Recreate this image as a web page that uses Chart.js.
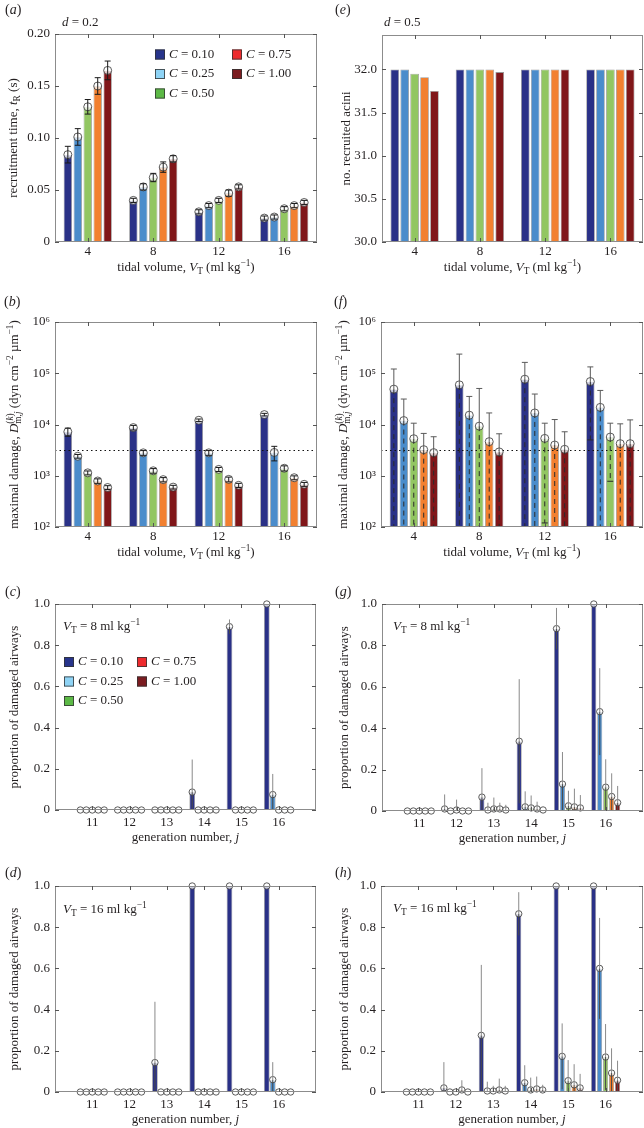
<!DOCTYPE html>
<html>
<head>
<meta charset="utf-8">
<script src="https://cdn.jsdelivr.net/npm/chart.js@4.4.1/dist/chart.umd.min.js"></script>
<style>
html, body { margin: 0; padding: 0; background: #fff; }
#page { position: relative; width: 644px; height: 1128px; overflow: hidden; }
#page canvas { position: absolute; }
</style>
</head>
<body>
<div id="page"></div>
<script>
// series and categories
const cLabels = ['0.10', '0.25', '0.50', '0.75', '1.00'];
const tidalVolumes = ['4', '8', '12', '16'];
const generations = [11, 12, 13, 14, 15, 16];

// tick values
const recruitTicks = [0, 0.05, 0.10, 0.15, 0.20];
const aciniTicks = [30, 30.5, 31, 31.5, 32];
const damageTicks = [1e2, 1e3, 1e4, 1e5, 1e6];
const propTicks = [0, 0.2, 0.4, 0.6, 0.8, 1.0];

// (a) recruitment time, d = 0.2  (rows: C, cols: tidal volume)
const recruitTimeD02 = [
	[0.084, 0.040, 0.029, 0.023],
	[0.101, 0.053, 0.035, 0.024],
	[0.130, 0.062, 0.040, 0.032],
	[0.150, 0.072, 0.047, 0.035],
	[0.165, 0.080, 0.053, 0.038]
];
const recruitTimeErrD02 = [
	[0.008, 0.002, 0.002, 0.002],
	[0.008, 0.003, 0.002, 0.002],
	[0.007, 0.004, 0.002, 0.002],
	[0.008, 0.005, 0.003, 0.002],
	[0.009, 0.003, 0.002, 0.002]
];

// (e) recruited acini, d = 0.5
const recruitedAciniD05 = [
	[32, 32, 32, 32],
	[32, 32, 32, 32],
	[31.95, 32, 32, 32],
	[31.91, 32, 32, 32],
	[31.75, 31.97, 32, 32]
];

// (b) maximal damage, d = 0.2
const maxDamageD02 = [
	[7200, 8700, 12100, 15600],
	[2400, 2800, 2800, 2850],
	[1140, 1250, 1330, 1400],
	[790, 840, 850, 915],
	[590, 600, 650, 680]
];
const maxDamageErrD02 = [
	[1300, 900, 700, 900],
	[200, 300, 300, 900],
	[100, 130, 120, 160],
	[80, 80, 90, 80],
	[50, 50, 60, 60]
];

// (f) maximal damage, d = 0.5
const maxDamageD05 = [
	[49000, 59400, 76500, 69000],
	[11950, 15200, 16800, 21600],
	[5280, 9290, 5360, 5690],
	[3230, 4630, 3980, 4230],
	[2830, 2920, 3280, 4230]
];
const maxDamageErrD05 = [
	[72000, 177000, 86500, 64000],
	[19450, 20100, 22500, 24600],
	[5320, 41200, 5240, 4910],
	[3470, 12170, 8520, 6070],
	[2940, 3670, 3930, 8070]
];
const damageThreshold = 3150;

// (c) proportion of damaged airways, VT = 8, d = 0.2  (cols: generation 11..16)
const damagedVT8D02 = [
	[0, 0, 0, 0.087, 0.89, 1.0],
	[0, 0, 0, 0, 0, 0.075],
	[0, 0, 0, 0, 0, 0],
	[0, 0, 0, 0, 0, 0],
	[0, 0, 0, 0, 0, 0]
];
const damagedVT8ErrD02 = [
	[0, 0, 0, 0.158, 0.035, 0],
	[0, 0, 0, 0, 0, 0.10],
	[0, 0, 0, 0, 0, 0],
	[0, 0, 0, 0, 0, 0],
	[0, 0, 0, 0, 0, 0]
];

// (d) VT = 16, d = 0.2
const damagedVT16D02 = [
	[0, 0, 0.143, 1.0, 1.0, 1.0],
	[0, 0, 0, 0, 0, 0.06],
	[0, 0, 0, 0, 0, 0],
	[0, 0, 0, 0, 0, 0],
	[0, 0, 0, 0, 0, 0]
];
const damagedVT16ErrD02 = [
	[0, 0, 0.295, 0, 0, 0],
	[0, 0, 0, 0, 0, 0.085],
	[0, 0, 0, 0, 0, 0],
	[0, 0, 0, 0, 0, 0],
	[0, 0, 0, 0, 0, 0]
];

// (g) VT = 8, d = 0.5
const damagedVT8D05 = [
	[0, 0.01, 0.067, 0.337, 0.881, 1.0],
	[0, 0, 0.005, 0.02, 0.13, 0.48],
	[0, 0.005, 0.01, 0.015, 0.025, 0.115],
	[0, 0, 0.01, 0.01, 0.02, 0.07],
	[0, 0, 0.005, 0.005, 0.015, 0.04]
];
const damagedVT8ErrD05 = [
	[0, 0.07, 0.14, 0.30, 0.10, 0],
	[0, 0, 0.035, 0.075, 0.155, 0.21],
	[0, 0.05, 0.055, 0.06, 0.073, 0.135],
	[0, 0, 0.03, 0.035, 0.088, 0.112],
	[0, 0, 0.025, 0, 0.062, 0.081]
];

// (h) VT = 16, d = 0.5
const damagedVT16D05 = [
	[0, 0.02, 0.275, 0.865, 1.0, 1.0],
	[0, 0, 0.005, 0.045, 0.173, 0.6],
	[0, 0, 0.005, 0.01, 0.055, 0.17],
	[0, 0.01, 0.01, 0.015, 0.035, 0.092],
	[0, 0, 0.005, 0.01, 0.02, 0.057]
];
const damagedVT16ErrD05 = [
	[0, 0.125, 0.342, 0.105, 0, 0],
	[0, 0, 0.045, 0.085, 0.16, 0.245],
	[0, 0, 0.025, 0.06, 0.10, 0.16],
	[0, 0.047, 0.055, 0.06, 0.10, 0.12],
	[0, 0, 0.025, 0.025, 0.068, 0.095]
];

const FONT = '"Liberation Serif", "DejaVu Serif", serif';
const TEXT = '#231f20';
const barColors = ['#2a3187', '#4a8ccb', '#92c662', '#f28030', '#801619'];
const legendColors = ['#27348b', '#8ed3f5', '#5cb946', '#ed2a2d', '#7b1c20'];

// rich text pieces
const T = t => ({t});
const I = t => ({t, i: true});
const Sub = (t, i) => ({t, s: 'sub', i});
const Sup = (t, i) => ({t, s: 'sup', i});

function DrawRich(ctx, parts, x, y, size, align) {
	let x0 = 0;
	const run = draw => {
		let cx = 0, mark = 0, maxEnd = 0;
		for (const p of parts) {
			if (p.mark) { mark = cx; continue; }
			if (p.back) { maxEnd = cx; cx = mark; continue; }
			if (p.end) { cx = Math.max(cx, maxEnd); continue; }
			const fs = p.s ? size * 0.72 : size;
			ctx.font = (p.i ? 'italic ' : '') + fs + 'px ' + FONT;
			const dy = p.s === 'sub' ? size * 0.3 : p.s === 'sup' ? -size * 0.38 : 0;
			if (draw) ctx.fillText(p.t, x0 + cx, y + dy);
			cx += ctx.measureText(p.t).width;
		}
		return cx;
	};
	ctx.textAlign = 'left';
	ctx.textBaseline = 'middle';
	const w = run(false);
	x0 = align === 'center' ? x - w / 2 : align === 'right' ? x - w : x;
	run(true);
}

const tidalTitle = [T('tidal volume, '), I('V'), Sub('T'), T(' (ml kg'), Sup('\u22121'), T(')')];
const genTitle = [T('generation number, '), I('j')];
const recruitTitle = [T('recruitment time, '), I('t'), Sub('R'), T(' (s)')];
const aciniTitle = [T('no. recruited acini')];
const damageTitle = [T('maximal damage, '), I('D'), {mark: true}, Sub('m,'), Sub('j', true), {back: true},
	Sup('('), Sup('k', true), Sup(')'), {end: true}, T(' (dyn cm'), Sup('\u22122'), T(' \u00b5m'), Sup('\u22121'), T(')')];
const propTitle = [T('proportion of damaged airways')];
const dNote = v => [I('d'), T(' = ' + v)];
const vtNote = v => [I('V'), Sub('T'), T(' = ' + v + ' ml kg'), Sup('\u22121')];

const supDigits = {'0': '\u2070', '1': '\u00b9', '2': '\u00b2', '3': '\u00b3', '4': '\u2074', '5': '\u2075', '6': '\u2076'};
const fmtRecruit = v => v === 0 ? '0' : v.toFixed(2);
const fmtAcini = v => v.toFixed(1);
const fmtProp = v => v === 0 ? '0' : v.toFixed(1);
const fmtPow = v => '10' + supDigits[String(Math.round(Math.log10(v)))];

function DecorPlugin(p) {
	return {
		id: 'decor_' + p.id,
		afterDatasetsDraw(chart) {
			const ctx = chart.ctx, ys = chart.scales.y, area = chart.chartArea;
			ctx.save();
			if (p.threshold) {
				const ty = Math.round(ys.getPixelForValue(p.threshold)) + 0.5;
				ctx.strokeStyle = '#111';
				ctx.lineWidth = 1;
				ctx.setLineDash([1.5, 3]);
				ctx.beginPath(); ctx.moveTo(area.left, ty); ctx.lineTo(area.right, ty); ctx.stroke();
				ctx.setLineDash([]);
			}
			if (p.err) {
				chart.data.datasets.forEach((ds, k) => {
					chart.getDatasetMeta(k).data.forEach((bar, j) => {
						const v = p.values[k][j], e = p.err[k][j];
						const x = bar.x, y = bar.y;
						ctx.beginPath();
						ctx.arc(x, y, p.r, 0, 2 * Math.PI);
						ctx.fillStyle = 'rgba(255,255,255,0.75)';
						ctx.fill();
						ctx.strokeStyle = '#333';
						ctx.lineWidth = 0.8;
						ctx.stroke();
						if (!(e > 0)) return;
						const top = ys.getPixelForValue(v + e);
						const lowCapped = v - e > ys.min;
						const low = lowCapped ? ys.getPixelForValue(v - e) : area.bottom;
						const line = (x1, y1, x2, y2) => { ctx.beginPath(); ctx.moveTo(x1, y1); ctx.lineTo(x2, y2); ctx.stroke(); };
						ctx.lineWidth = 1;
						if (p.errStyle === 'black') {
							ctx.strokeStyle = '#1a1a1a';
							line(x, top, x, low);
							line(x - 3, top, x + 3, top);
							if (lowCapped) line(x - 3, low, x + 3, low);
						} else if (p.errStyle === 'dash') {
							ctx.strokeStyle = '#5a5a5a';
							line(x, y, x, top);
							line(x - 3, top, x + 3, top);
							ctx.strokeStyle = '#2a2a2a';
							ctx.setLineDash([5, 4]);
							line(x, y, x, low);
							ctx.setLineDash([]);
							if (lowCapped) line(x - 3, low, x + 3, low);
						} else {
							ctx.strokeStyle = '#8a8a8a';
							line(x, top, x, y);
							ctx.strokeStyle = '#4a4a4a';
							line(x, y, x, low);
						}
					});
				});
			}
			ctx.restore();
		},
		afterDraw(chart) {
			const ctx = chart.ctx, xs = chart.scales.x, ys = chart.scales.y, area = chart.chartArea;
			ctx.save();
			// frame
			ctx.strokeStyle = '#8c8c8c';
			ctx.lineWidth = 1;
			ctx.strokeRect(area.left + 0.5, area.top + 0.5, area.right - area.left - 1, area.bottom - area.top - 1);
			// inward ticks on all four sides
			ctx.strokeStyle = '#555';
			ctx.beginPath();
			ys.ticks.forEach(t => {
				const ty = Math.round(ys.getPixelForValue(t.value)) + 0.5;
				ctx.moveTo(area.left, ty); ctx.lineTo(area.left + 4, ty);
				ctx.moveTo(area.right, ty); ctx.lineTo(area.right - 4, ty);
			});
			xs.ticks.forEach((t, i) => {
				const tx = Math.round(xs.getPixelForTick(i)) + 0.5;
				ctx.moveTo(tx, area.bottom); ctx.lineTo(tx, area.bottom - 4);
				ctx.moveTo(tx, area.top); ctx.lineTo(tx, area.top + 4);
			});
			ctx.stroke();

			ctx.fillStyle = TEXT;
			// axis titles
			DrawRich(ctx, p.xTitle, (area.left + area.right) / 2, area.bottom + p.xTitleGap, 13, 'center');
			ctx.save();
			ctx.translate(p.yTitleX, (area.top + area.bottom) / 2);
			ctx.rotate(-Math.PI / 2);
			DrawRich(ctx, p.yTitle, 0, 0, 13, 'center');
			ctx.restore();
			// panel letter
			DrawRich(ctx, [T('('), I(p.id), T(')')], p.labelPos[0], p.labelPos[1], 14, 'left');
			// note
			if (p.note) DrawRich(ctx, p.note, p.notePos[0], p.notePos[1], 13, 'left');
			// legend
			if (p.legend) {
				const L = p.legend;
				cLabels.forEach((c, k) => {
					const col = k < 3 ? 0 : 1, row = k < 3 ? k : k - 3;
					const sx = area.left + L.dx + col * L.col;
					const cy = area.top + L.dy + row * 19.5;
					ctx.fillStyle = legendColors[k];
					ctx.fillRect(sx, cy - 5, 10, 10);
					ctx.strokeStyle = '#333';
					ctx.lineWidth = 0.8;
					ctx.strokeRect(sx + 0.4, cy - 4.6, 9.2, 9.2);
					ctx.fillStyle = TEXT;
					DrawRich(ctx, [I('C'), T(' = ' + c)], sx + 14, cy, 13, 'left');
				});
			}
			ctx.restore();
		}
	};
}

function MakePanel(p) {
	const W = 322, H = 282;
	const canvas = document.createElement('canvas');
	canvas.width = W;
	canvas.height = H;
	canvas.style.left = p.x + 'px';
	canvas.style.top = p.y + 'px';
	window.page.appendChild(canvas);

	const isGen = p.kind === 'gen';
	p.xTitleGap = isGen ? 28 : 26;
	const datasets = p.values.map((vals, k) => ({
		label: 'C = ' + cLabels[k],
		data: isGen ? generations.map((g, j) => ({x: g, y: vals[j]})) : vals,
		backgroundColor: barColors[k],
		borderColor: 'rgba(50,50,50,0.5)',
		borderWidth: 0.8,
		categoryPercentage: isGen ? 0.8 : 0.76,
		barPercentage: p.barPct
	}));
	const tickFont = {family: FONT, size: 13};

	const xScale = isGen ? {
		type: 'linear', min: 10, max: 17, offset: false,
		afterBuildTicks: s => { s.ticks = generations.map(v => ({value: v})); },
		ticks: {font: tickFont, color: TEXT, padding: 5, maxRotation: 0, autoSkip: false, callback: v => String(v)}
	} : {
		type: 'category', offset: true,
		ticks: {font: tickFont, color: TEXT, padding: 2, maxRotation: 0, autoSkip: false}
	};
	xScale.grid = {display: false, drawTicks: false};
	xScale.border = {display: false};
	xScale.afterFit = s => { s.height = H - p.plot.b; };

	new Chart(canvas.getContext('2d'), {
		type: 'bar',
		data: {labels: isGen ? undefined : tidalVolumes, datasets},
		options: {
			responsive: false,
			animation: false,
			devicePixelRatio: 1,
			events: [],
			layout: {padding: {top: p.plot.t, right: W - p.plot.r, left: 0, bottom: 0}},
			plugins: {legend: {display: false}, tooltip: {enabled: false}},
			scales: {
				x: xScale,
				y: {
					type: p.yType,
					min: p.yMin,
					max: p.yMax,
					grid: {display: false, drawTicks: false},
					border: {display: false},
					afterBuildTicks: s => { s.ticks = p.yTicks.map(v => ({value: v})); },
					afterFit: s => { s.width = p.plot.l; },
					ticks: {font: tickFont, color: TEXT, padding: 5, autoSkip: false, callback: v => p.yFmt(v)}
				}
			}
		},
		plugins: [DecorPlugin(p)]
	});
}

const panels = [
	{id: 'a', x: 0, y: 0, plot: {l: 55, t: 34, r: 317, b: 242}, kind: 'cat', barPct: 0.84,
		values: recruitTimeD02, err: recruitTimeErrD02, errStyle: 'black', r: 4,
		yType: 'linear', yMin: 0, yMax: 0.2, yTicks: recruitTicks, yFmt: fmtRecruit,
		yTitle: recruitTitle, yTitleX: 14, xTitle: tidalTitle, labelPos: [5, 10],
		note: dNote('0.2'), notePos: [62, 23], legend: {dx: 100, dy: 20.5, col: 77}},
	{id: 'e', x: 322, y: 0, plot: {l: 60, t: 35, r: 321, b: 242}, kind: 'cat', barPct: 0.87,
		values: recruitedAciniD05, err: null,
		yType: 'linear', yMin: 30, yMax: 32.4, yTicks: aciniTicks, yFmt: fmtAcini,
		yTitle: aciniTitle, yTitleX: 25, xTitle: tidalTitle, labelPos: [13, 10],
		note: dNote('0.5'), notePos: [62, 23]},
	{id: 'b', x: 0, y: 282, plot: {l: 55, t: 40, r: 317, b: 245}, kind: 'cat', barPct: 0.84,
		values: maxDamageD02, err: maxDamageErrD02, errStyle: 'black', r: 4, threshold: damageThreshold,
		yType: 'logarithmic', yMin: 1e2, yMax: 1e6, yTicks: damageTicks, yFmt: fmtPow,
		yTitle: damageTitle, yTitleX: 15, xTitle: tidalTitle, labelPos: [4, 20]},
	{id: 'f', x: 322, y: 282, plot: {l: 59, t: 40, r: 321, b: 245}, kind: 'cat', barPct: 0.84,
		values: maxDamageD05, err: maxDamageErrD05, errStyle: 'dash', r: 4, threshold: damageThreshold,
		yType: 'logarithmic', yMin: 1e2, yMax: 1e6, yTicks: damageTicks, yFmt: fmtPow,
		yTitle: damageTitle, yTitleX: 22, xTitle: tidalTitle, labelPos: [12, 20]},
	{id: 'c', x: 0, y: 564, plot: {l: 55, t: 40, r: 316, b: 246}, kind: 'gen', barPct: 0.95,
		values: damagedVT8D02, err: damagedVT8ErrD02, errStyle: 'gray', r: 3.2,
		yType: 'linear', yMin: 0, yMax: 1, yTicks: propTicks, yFmt: fmtProp,
		yTitle: propTitle, yTitleX: 15, xTitle: genTitle, labelPos: [5, 28],
		note: vtNote('8'), notePos: [63, 63], legend: {dx: 9, dy: 58, col: 73}},
	{id: 'g', x: 322, y: 564, plot: {l: 60, t: 40, r: 321, b: 247}, kind: 'gen', barPct: 0.85,
		values: damagedVT8D05, err: damagedVT8ErrD05, errStyle: 'gray', r: 3.2,
		yType: 'linear', yMin: 0, yMax: 1, yTicks: propTicks, yFmt: fmtProp,
		yTitle: propTitle, yTitleX: 23, xTitle: genTitle, labelPos: [13, 28],
		note: vtNote('8'), notePos: [71, 63]},
	{id: 'd', x: 0, y: 846, plot: {l: 55, t: 40, r: 316, b: 246}, kind: 'gen', barPct: 0.95,
		values: damagedVT16D02, err: damagedVT16ErrD02, errStyle: 'gray', r: 3.2,
		yType: 'linear', yMin: 0, yMax: 1, yTicks: propTicks, yFmt: fmtProp,
		yTitle: propTitle, yTitleX: 15, xTitle: genTitle, labelPos: [5, 27],
		note: vtNote('16'), notePos: [63, 64]},
	{id: 'h', x: 322, y: 846, plot: {l: 59, t: 40, r: 321, b: 246}, kind: 'gen', barPct: 0.85,
		values: damagedVT16D05, err: damagedVT16ErrD05, errStyle: 'gray', r: 3.2,
		yType: 'linear', yMin: 0, yMax: 1, yTicks: propTicks, yFmt: fmtProp,
		yTitle: propTitle, yTitleX: 23, xTitle: genTitle, labelPos: [13, 27],
		note: vtNote('16'), notePos: [71, 63]}
];

panels.forEach(MakePanel);
</script>
</body>
</html>
